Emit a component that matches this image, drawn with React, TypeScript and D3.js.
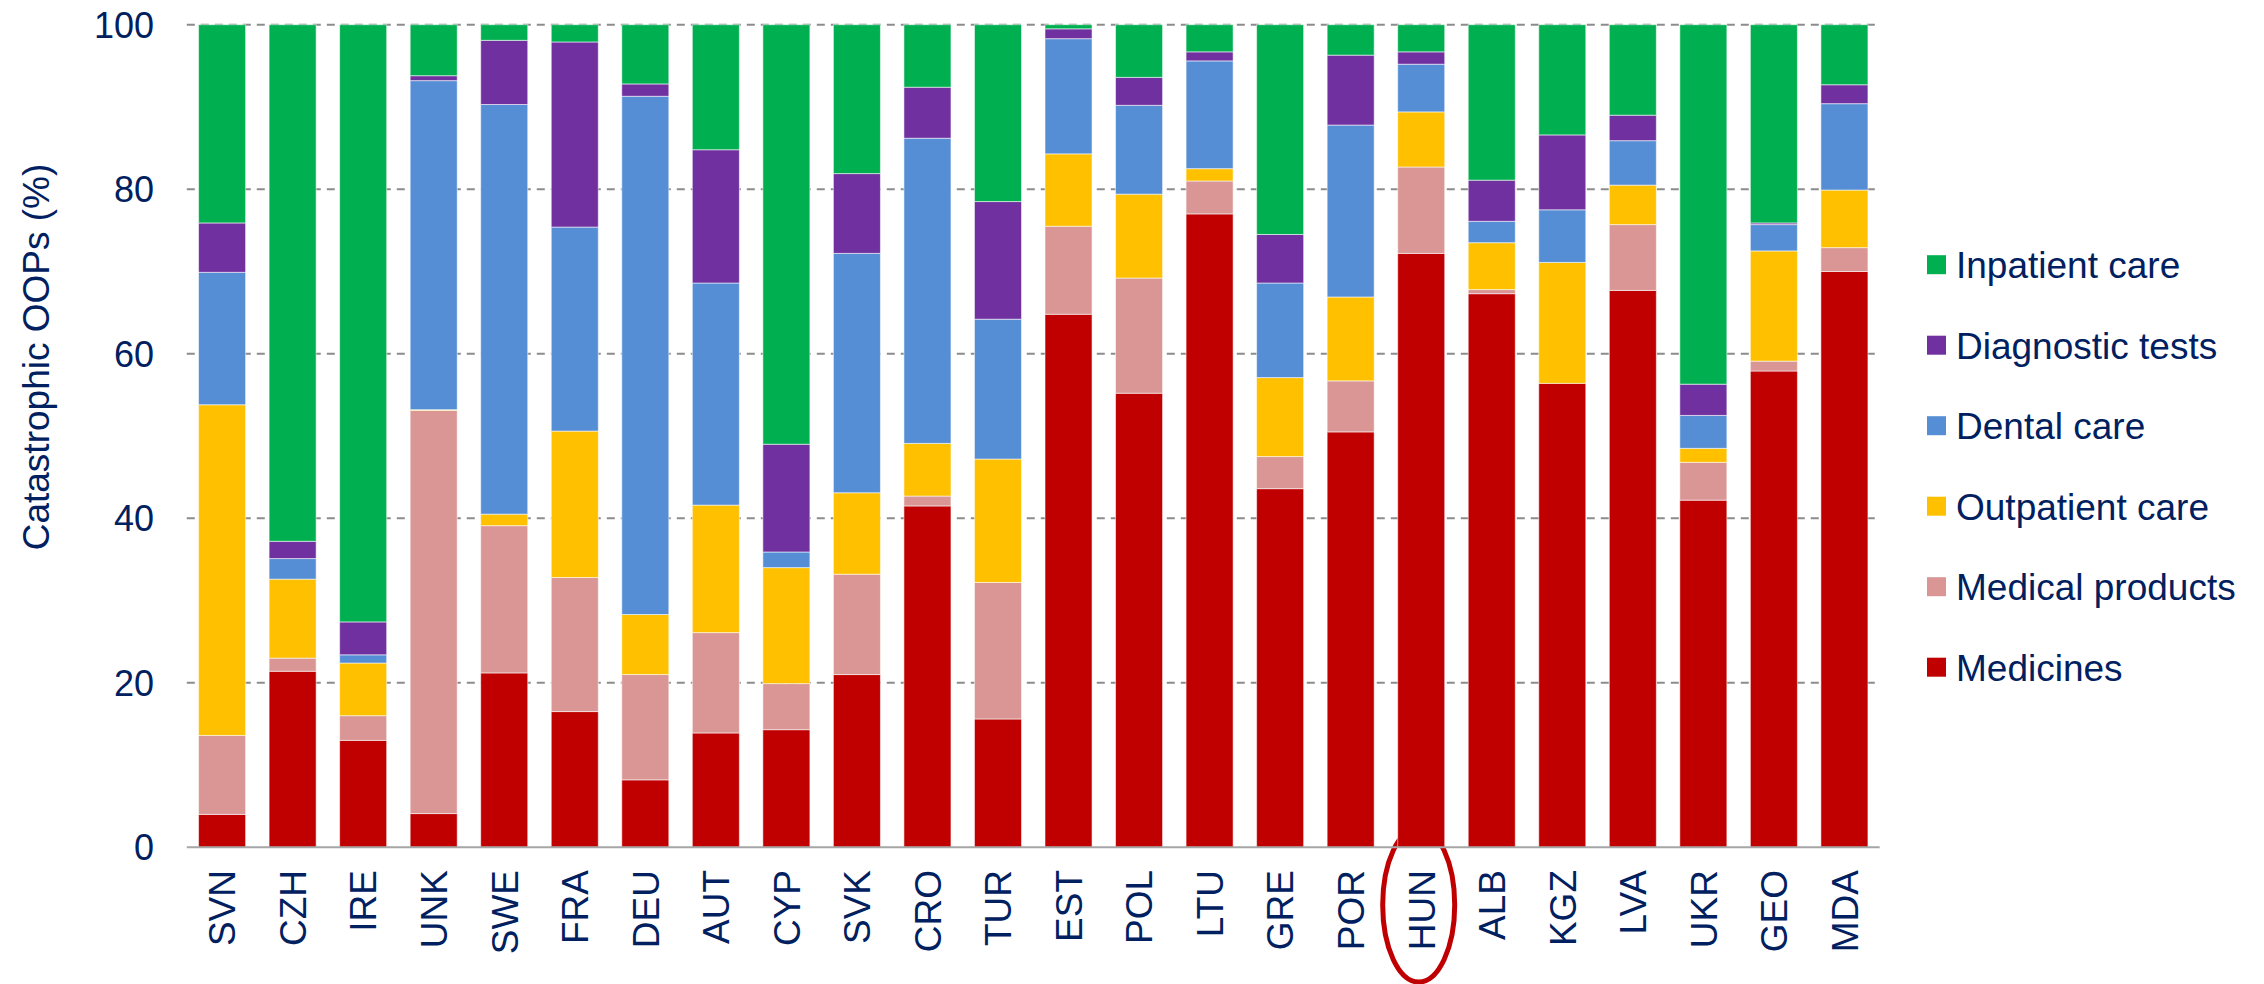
import React from "react";
import * as d3 from "d3";

const categories = ["SVN","CZH","IRE","UNK","SWE","FRA","DEU","AUT","CYP","SVK","CRO","TUR","EST","POL","LTU","GRE","POR","HUN","ALB","KGZ","LVA","UKR","GEO","MDA"];

const medicines       = [4.0, 21.4, 13.0, 4.1, 21.2, 16.5, 8.2, 13.9, 14.3, 21.0, 41.5, 15.6, 64.8, 55.2, 77.0, 43.6, 50.5, 72.2, 67.3, 56.4, 67.7, 42.2, 57.9, 70.0];
const medicalProducts = [9.6, 1.6, 3.0, 49.0, 17.9, 16.3, 12.8, 12.2, 5.6, 12.2, 1.2, 16.6, 10.7, 14.0, 4.0, 3.9, 6.2, 10.5, 0.5, 0.0, 8.0, 4.6, 1.2, 2.9];
const outpatientCare  = [40.2, 9.6, 6.4, 0.1, 1.4, 17.8, 7.3, 15.5, 14.1, 9.9, 6.4, 15.0, 8.8, 10.2, 1.5, 9.6, 10.2, 6.7, 5.7, 14.7, 4.8, 1.7, 13.4, 7.0];
const dentalCare      = [16.1, 2.5, 1.0, 40.0, 49.8, 24.8, 63.0, 27.0, 1.9, 29.1, 37.1, 17.0, 14.0, 10.8, 13.1, 11.5, 20.9, 5.8, 2.6, 6.4, 5.4, 4.0, 3.2, 10.5];
const diagnosticTests = [6.0, 2.1, 4.0, 0.6, 7.8, 22.5, 1.5, 16.2, 13.1, 9.7, 6.2, 14.3, 1.2, 3.4, 1.1, 5.9, 8.5, 1.5, 5.0, 9.1, 3.1, 3.8, 0.2, 2.3];
const inpatientCare   = [24.1, 62.8, 72.6, 6.2, 1.9, 2.1, 7.2, 15.2, 51.0, 18.1, 7.6, 21.5, 0.5, 6.4, 3.3, 25.5, 3.7, 3.3, 18.9, 13.4, 11.0, 43.7, 24.1, 7.3];

const seriesNames = ["Medicines","Medical products","Outpatient care","Dental care","Diagnostic tests","Inpatient care"];
const seriesColors = ["#C00000","#D99694","#FFC000","#558ED5","#7030A0","#00B050"];
const yTicks = [0, 20, 40, 60, 80, 100];
const yTitle = "Catastrophic OOPs (%)";
const highlighted = "HUN";

const W = 2264, H = 984;
const FONT = "Arial, 'Liberation Sans', sans-serif";
const TXT = "#002060";

export default function App() {
  const seriesArrays = [medicines, medicalProducts, outpatientCare, dentalCare, diagnosticTests, inpatientCare];
  const table = categories.map((c, i) => {
    const row: any = { cat: c };
    seriesNames.forEach((s, k) => { row[s] = seriesArrays[k][i]; });
    return row;
  });
  const stacked = d3.stack().keys(seriesNames)(table as any);

  const x = d3.scaleBand<string>().domain(categories).range([186.8, 1879.7]).paddingInner(0.333).paddingOuter(0.1667);
  const y = d3.scaleLinear().domain([0, 100]).range([847.3, 24.7]);

  const hx = (x(highlighted) as number) + x.bandwidth() / 2;

  return (
    <svg width={W} height={H} style={{ position: "absolute", left: 0, top: 0, background: "#fff" }} fontFamily={FONT}>
      <rect x={0} y={0} width={W} height={H} fill="#fff" />
      {/* grid */}
      {yTicks.filter(t => t > 0).map(t => (
        <line key={t} x1={186.8} x2={1879.7} y1={y(t)} y2={y(t)} stroke="#8C8C8C" strokeWidth={2} strokeDasharray="8,6" />
      ))}
      {/* highlight ellipse */}
      <ellipse cx={hx - 2.5} cy={905} rx={36} ry={77} fill="none" stroke="#C00000" strokeWidth={5} />
      {/* bars */}
      {stacked.map((s, k) => (
        <g key={seriesNames[k]} fill={seriesColors[k]}>
          {s.map((d: any, i: number) => {
            const h = y(d[0]) - y(d[1]);
            if (h <= 0) return null;
            return (
              <rect key={i} x={x(categories[i])} y={y(d[1])} width={x.bandwidth()} height={h}
                stroke="rgba(255,255,255,0.55)" strokeWidth={1} />
            );
          })}
        </g>
      ))}
      {/* x axis line */}
      <line x1={186.8} x2={1879.7} y1={y(0)} y2={y(0)} stroke="#A6A6A6" strokeWidth={2} />
      {/* y tick labels */}
      {yTicks.map(t => (
        <text key={t} x={154} y={y(t)} dy="0.36em" textAnchor="end" fontSize={36} fill={TXT}>{t}</text>
      ))}
      {/* y title */}
      <text transform={`translate(49,357) rotate(-90)`} textAnchor="middle" fontSize={37} fill={TXT}>{yTitle}</text>
      {/* x labels */}
      {categories.map(c => (
        <text key={c} transform={`translate(${(x(c) as number) + x.bandwidth() / 2},870) rotate(-90)`} dy="0.36em"
          textAnchor="end" fontSize={37} fill={TXT}>{c}</text>
      ))}
      {/* legend */}
      {seriesNames.slice().reverse().map((s, i) => {
        const color = seriesColors[seriesNames.length - 1 - i];
        const cy = 264.7 + i * 80.5;
        return (
          <g key={s}>
            <rect x={1927} y={cy - 9.5} width={19} height={19} fill={color} />
            <text x={1956} y={cy} dy="0.36em" fontSize={37} fill={TXT}>{s}</text>
          </g>
        );
      })}
    </svg>
  );
}
